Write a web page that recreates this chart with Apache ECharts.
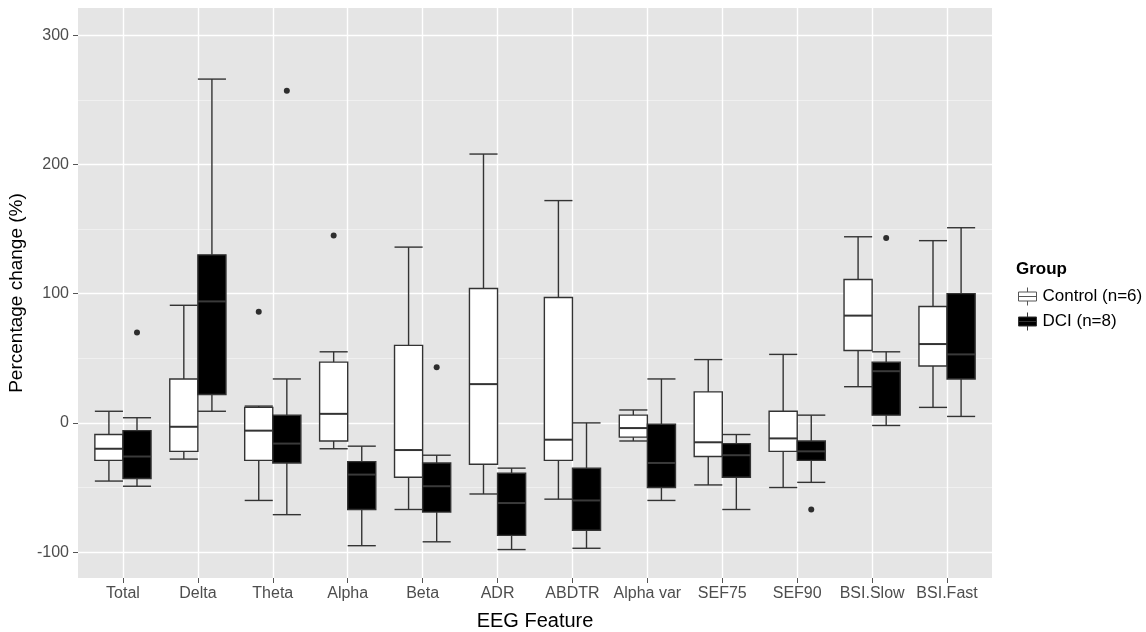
<!DOCTYPE html>
<html>
<head>
<meta charset="utf-8">
<script src="https://cdn.jsdelivr.net/npm/echarts@6/dist/echarts.min.js"></script>
<style>
  html, body { margin: 0; padding: 0; background: #fff; }
  #main { width: 1146px; height: 632px; }
</style>
</head>
<body>
<div id="main"></div>
<script>
// categories on the x axis
const categories = ['Total', 'Delta', 'Theta', 'Alpha', 'Beta', 'ADR', 'ABDTR',
  'Alpha var', 'SEF75', 'SEF90', 'BSI.Slow', 'BSI.Fast'];

// [lower whisker, q1, median, q3, upper whisker]
const controlStats = [
  [-45, -29, -20, -9, 9],
  [-28, -22, -3, 34, 91],
  [-60, -29, -6, 12, 13],
  [-20, -14, 7, 47, 55],
  [-67, -42, -21, 60, 136],
  [-55, -32, 30, 104, 208],
  [-59, -29, -13, 97, 172],
  [-14, -11, -4, 6, 10],
  [-48, -26, -15, 24, 49],
  [-50, -22, -12, 9, 53],
  [28, 56, 83, 111, 144],
  [12, 44, 61, 90, 141]
];
const dciStats = [
  [-49, -43, -26, -6, 4],
  [9, 22, 94, 130, 266],
  [-71, -31, -16, 6, 34],
  [-95, -67, -40, -30, -18],
  [-92, -69, -49, -31, -25],
  [-98, -87, -62, -39, -35],
  [-97, -83, -60, -35, 0],
  [-60, -50, -31, -1, 34],
  [-67, -42, -25, -16, -9],
  [-46, -29, -22, -14, 6],
  [-2, 6, 40, 47, 55],
  [5, 34, 53, 100, 151]
];

// outliers: [category index, value]
const controlOutliers = [[2, 86], [3, 145]];
const dciOutliers = [[0, 70], [2, 257], [4, 43], [9, -67], [10, 143]];

const yTicks = [-100, 0, 100, 200, 300];
const yMinor = [-50, 50, 150, 250];

const boxW = 0.375;
const font = 'Liberation Sans, Arial, sans-serif';

function boxRender(offset, fill, medianColor) {
  return function (params, api) {
    const i = api.value(0);
    const lo = api.value(1), q1 = api.value(2), med = api.value(3), q3 = api.value(4), hi = api.value(5);
    const x0 = api.coord([i + offset, 0])[0];
    const x1 = api.coord([i + offset + boxW, 0])[0];
    const xm = (x0 + x1) / 2;
    const y = function (v) { return api.coord([i, v])[1]; };
    const st = { stroke: '#333', lineWidth: 1.4, fill: null };
    return {
      type: 'group',
      children: [
        { type: 'line', shape: { x1: xm, y1: y(hi), x2: xm, y2: y(q3) }, style: st },
        { type: 'line', shape: { x1: xm, y1: y(q1), x2: xm, y2: y(lo) }, style: st },
        { type: 'line', shape: { x1: x0, y1: y(hi), x2: x1, y2: y(hi) }, style: st },
        { type: 'line', shape: { x1: x0, y1: y(lo), x2: x1, y2: y(lo) }, style: st },
        { type: 'rect', shape: { x: x0, y: y(q3), width: x1 - x0, height: y(q1) - y(q3) },
          style: { fill: fill, stroke: '#333', lineWidth: 1.4 } },
        { type: 'line', shape: { x1: x0, y1: y(med), x2: x1, y2: y(med) },
          style: { stroke: medianColor, lineWidth: 2 } }
      ]
    };
  };
}

function toData(stats) {
  return stats.map(function (s, i) { return [i].concat(s); });
}
function outlierData(list, offset) {
  return list.map(function (o) { return [o[0] + offset + boxW / 2, o[1]]; });
}

const legendIcon = 'path://M0,5H20V15H0Z M10,0V5 M10,15V20 M0,10H20';

const chart = echarts.init(document.getElementById('main'));
chart.setOption({
  animation: false,
  title: {
    text: 'Group', left: 1011, top: 256,
    textStyle: { fontFamily: font, fontSize: 17, fontWeight: 'bold', color: '#000' }
  },
  legend: {
    orient: 'vertical', left: 1013, top: 282,
    itemWidth: 20, itemHeight: 18, itemGap: 6,
    textStyle: { fontFamily: font, fontSize: 17, color: '#000' },
    data: [
      { name: 'Control (n=6)', icon: legendIcon, itemStyle: { color: '#fff', borderColor: '#555', borderWidth: 1 } },
      { name: 'DCI (n=8)', icon: legendIcon, itemStyle: { color: '#000', borderColor: '#333', borderWidth: 1 } }
    ]
  },
  grid: {
    left: 78, top: 8, width: 914, height: 570,
    outerBoundsMode: 'none', containLabel: false,
    show: true, backgroundColor: '#e5e5e5', borderWidth: 0
  },
  xAxis: {
    type: 'value', min: -0.6, max: 11.6,
    name: 'EEG Feature', nameLocation: 'middle', nameGap: 33,
    nameTextStyle: { fontFamily: font, fontSize: 20, color: '#000' },
    axisLine: { show: false, onZero: false },
    axisTick: { show: true, length: 5, lineStyle: { color: '#555' }, customValues: categories.map(function (c, i) { return i; }) },
    axisLabel: {
      customValues: categories.map(function (c, i) { return i; }),
      formatter: function (v) { return categories[Math.round(v)]; },
      fontFamily: font, fontSize: 16, color: '#4d4d4d', margin: 8
    },
    splitLine: { show: true, lineStyle: { color: '#fff', width: 1.4 } }
  },
  yAxis: [{
    type: 'value', min: -120, max: 321,
    name: 'Percentage change (%)', nameLocation: 'middle', nameGap: 49,
    nameTextStyle: { fontFamily: font, fontSize: 19, color: '#000' },
    axisLine: { show: false, onZero: false },
    axisTick: { show: true, length: 5, lineStyle: { color: '#555' }, customValues: yTicks },
    axisLabel: { customValues: yTicks, fontFamily: font, fontSize: 16, color: '#4d4d4d', margin: 9 },
    splitLine: { show: true, lineStyle: { color: '#fff', width: 1.4 } }
  }, {
    type: 'value', min: -120, max: 321, position: 'left',
    axisLine: { show: false, onZero: false },
    axisTick: { show: false, customValues: yMinor },
    axisLabel: { show: false, customValues: yMinor },
    splitLine: { show: true, lineStyle: { color: '#f2f2f2', width: 0.8 } }
  }],
  series: [
    {
      name: 'Control (n=6)', type: 'custom', yAxisIndex: 0,
      renderItem: boxRender(-boxW, '#fff', '#333'),
      itemStyle: { color: '#fff', borderColor: '#333' },
      encode: { x: 0, y: [1, 2, 3, 4, 5] },
      data: toData(controlStats), z: 3
    },
    {
      name: 'DCI (n=8)', type: 'custom', yAxisIndex: 0,
      renderItem: boxRender(0, '#000', '#3a3a3a'),
      itemStyle: { color: '#000', borderColor: '#333' },
      encode: { x: 0, y: [1, 2, 3, 4, 5] },
      data: toData(dciStats), z: 3
    },
    {
      name: 'Control (n=6)', type: 'scatter', symbolSize: 6,
      itemStyle: { color: '#000' }, data: outlierData(controlOutliers, -boxW), z: 4
    },
    {
      name: 'DCI (n=8)', type: 'scatter', symbolSize: 6,
      itemStyle: { color: '#000' }, data: outlierData(dciOutliers, 0), z: 4
    }
  ]
});
</script>
</body>
</html>
